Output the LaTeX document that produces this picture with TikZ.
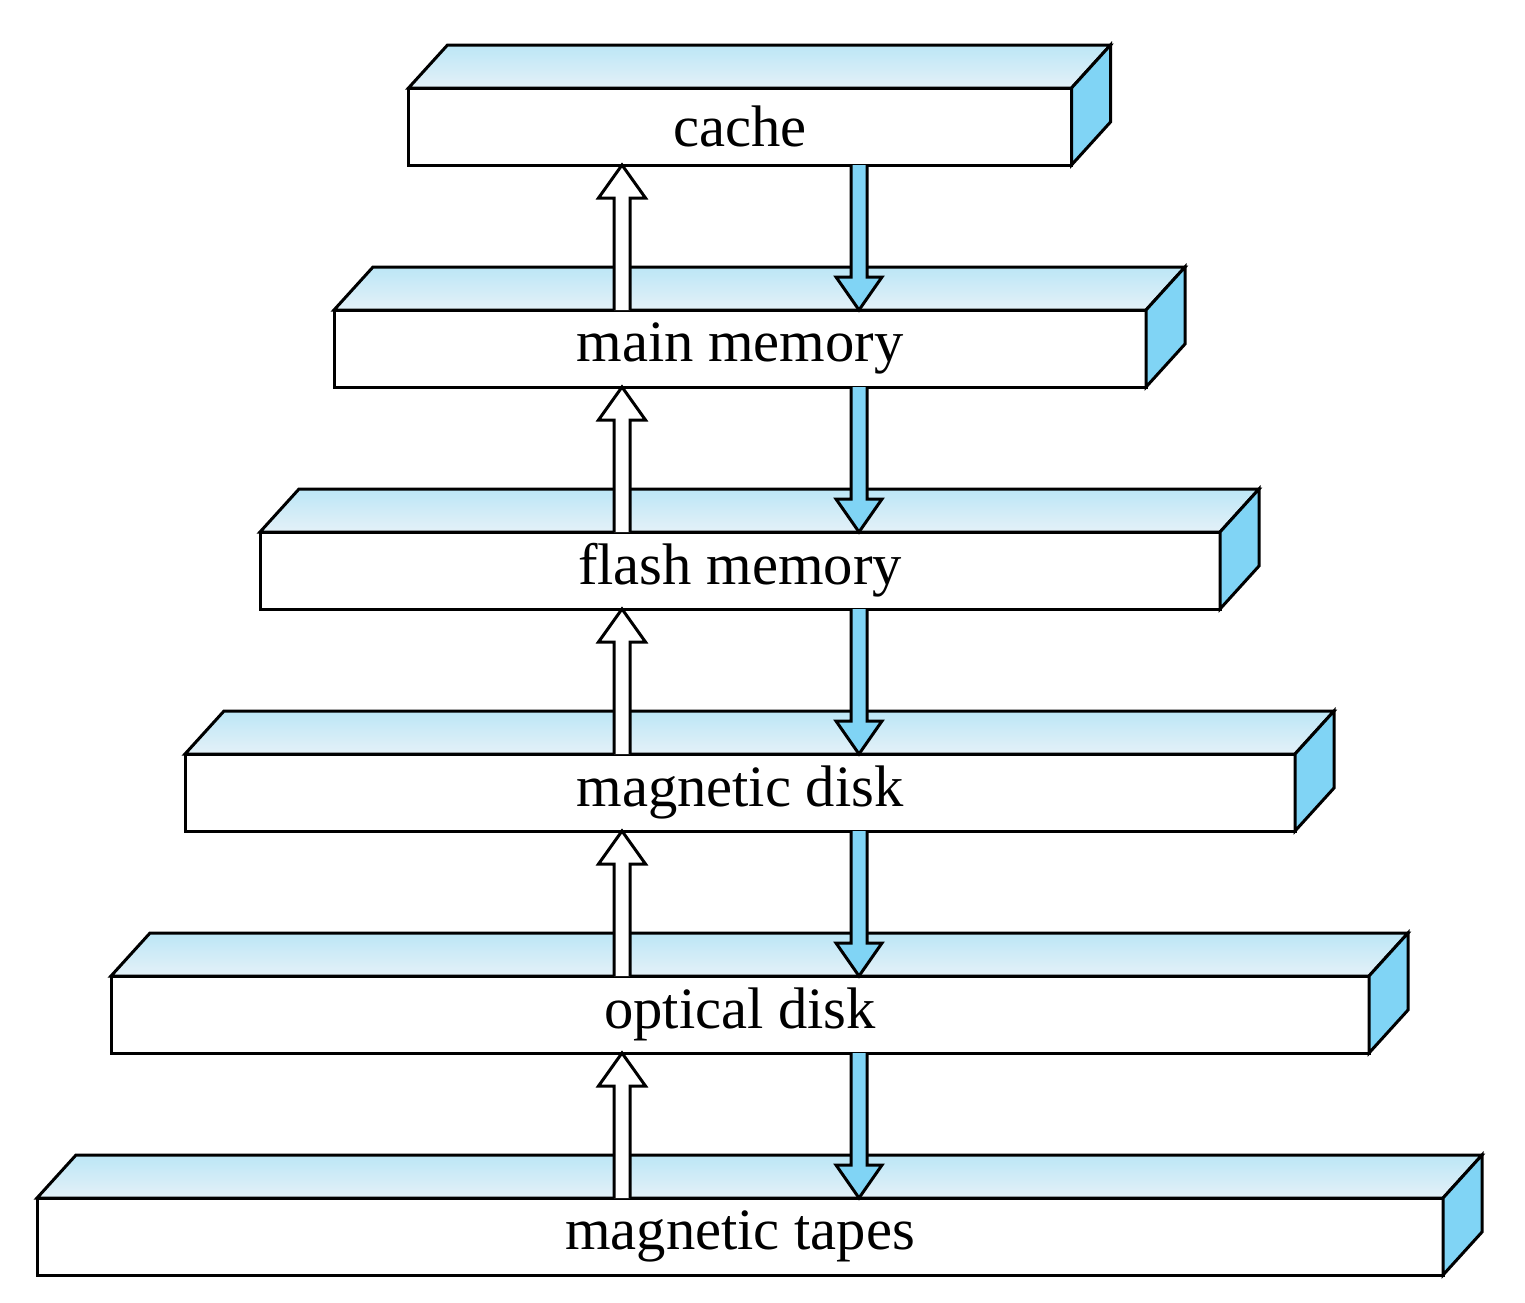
\documentclass[tikz,border=0pt]{standalone}
\usepackage{fontspec}
\setmainfont{Liberation Serif}
\usetikzlibrary{positioning,calc}
\definecolor{sideblue}{HTML}{80D4F5}
\definecolor{topblue}{HTML}{BCE6F6}
\definecolor{toppale}{HTML}{E4F1F8}

\begin{document}
\begin{tikzpicture}[x=0.5pt,y=-0.5pt,line width=1.5pt,
  level/.style={draw,fill=white,minimum height=38.5pt,inner sep=0pt,outer sep=0pt},
  topface/.style={draw,top color=topblue,bottom color=toppale},
  sideface/.style={draw,fill=sideblue},
  upshape/.style={draw,fill=white},
  downshape/.style={draw,fill=sideblue}]

  \fontsize{29.3}{32}\selectfont

  \useasboundingbox (0,0) rectangle (1525,1302);

  \newcommand\DX{39};
  \newcommand\DY{-43};

  %% the levels, front faces
  \node[level, minimum width=331.5pt] (cache) at (740,126.5) {cache};
  \node[level, minimum width=406pt, below=72.5pt of cache] (main) {main memory};
  \node[level, minimum width=480pt, below=72.5pt of main] (flash) {flash memory};
  \node[level, minimum width=555pt, below=72.5pt of flash] (mdisk) {magnetic disk};
  \node[level, minimum width=629pt, below=72.5pt of mdisk] (odisk) {optical disk};
  \node[level, minimum width=703pt, below=72.5pt of odisk] (tapes) {magnetic tapes};

  %% top and side faces
  \foreach \n in {cache,main,flash,mdisk,odisk,tapes}{
    \draw[topface] (\n.north west) -- ++(\DX,\DY) -- ($(\n.north east)+(\DX,\DY)$)
      -- (\n.north east) -- cycle;
    \draw[sideface] (\n.north east) -- ++(\DX,\DY) -- ($(\n.south east)+(\DX,\DY)$)
      -- (\n.south east) -- cycle;
  }

  \coordinate (upx) at (622,0);
  \coordinate (dnx) at (859,0);

  %% arrows between the levels
  \foreach \hi/\lo in {cache/main,main/flash,flash/mdisk,mdisk/odisk,odisk/tapes}{
    \draw[upshape] let \p1=(upx), \p2=(\lo.north), \p3=(\hi.south) in
      (\x1-4pt,\y2) -- (\x1-4pt,\y3-16.5pt) -- (\x1-11.75pt,\y3-16.5pt) -- (\x1,\y3)
      -- (\x1+11.75pt,\y3-16.5pt) -- (\x1+4pt,\y3-16.5pt) -- (\x1+4pt,\y2); % up
    \draw[downshape] let \p1=(dnx), \p2=(\lo.north), \p3=(\hi.south) in
      (\x1-4pt,\y3) -- (\x1-4pt,\y2+16.5pt) -- (\x1-11.5pt,\y2+16.5pt) -- (\x1,\y2)
      -- (\x1+11.5pt,\y2+16.5pt) -- (\x1+4pt,\y2+16.5pt) -- (\x1+4pt,\y3); % down
  }
\end{tikzpicture}
\end{document}
